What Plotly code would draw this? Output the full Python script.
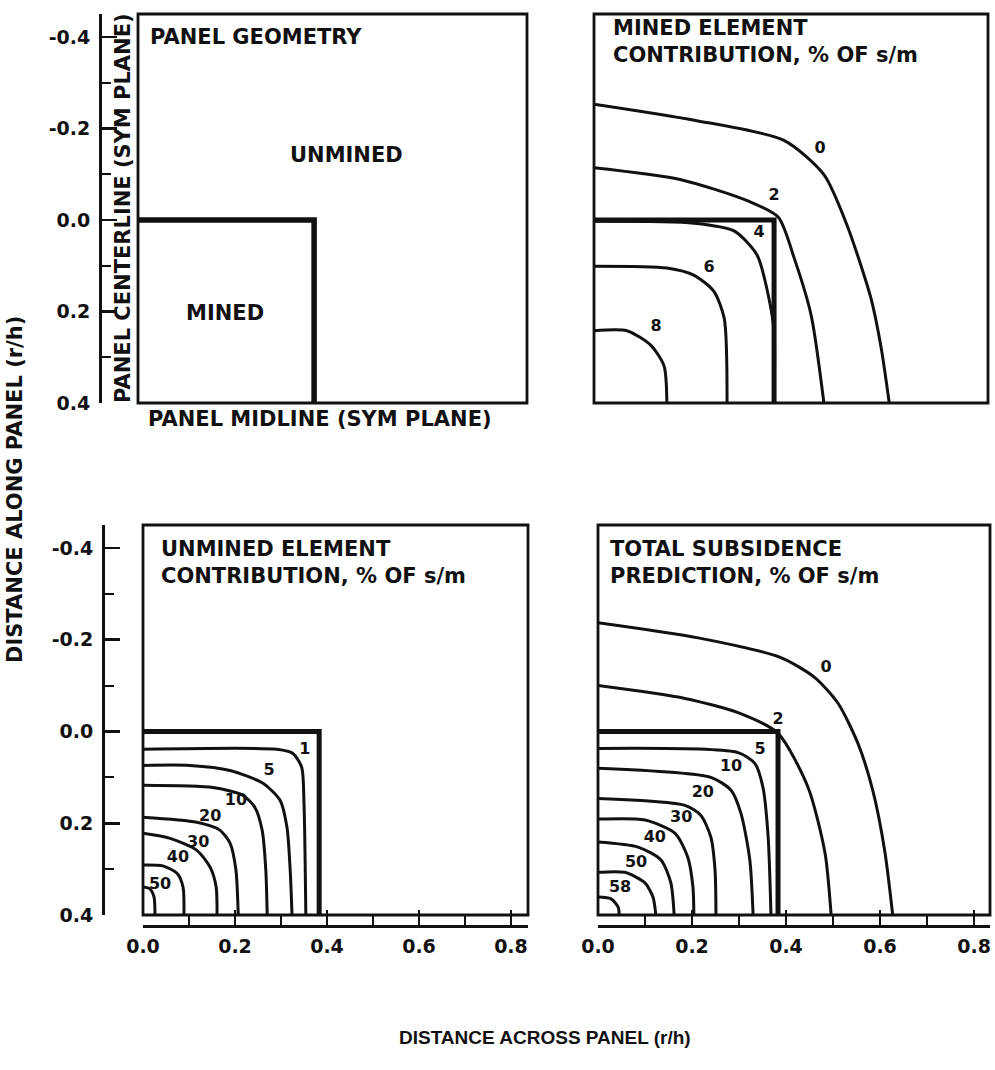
import plotly.graph_objects as go

W, H = 995, 1070

# ---------------- data ----------------
y_tick_vals = [-0.4, -0.2, 0.0, 0.2, 0.4]
y_tick_text = ["-0.4", "-0.2", "0.0", "0.2", "0.4"]
y_minor_vals = [-0.3, -0.1, 0.1, 0.3]
x_tick_vals = [0.0, 0.2, 0.4, 0.6, 0.8]
x_tick_text = ["0.0", "0.2", "0.4", "0.6", "0.8"]
x_minor_vals = [0.1, 0.3, 0.5, 0.7]

# mined panel outline (quarter panel, symmetric planes at x=0 and y=0.4)
panel_edge_x = [0.0, 0.383, 0.383]
panel_edge_y = [0.0, 0.0, 0.4]

# --- Mined element contribution, % of s/m ---
mined_labels = ["0", "2", "4", "6", "8"]
mined_0_x = [0.0, 0.213, 0.404, 0.489, 0.538, 0.589, 0.611, 0.628]
mined_0_y = [-0.253, -0.218, -0.174, -0.099, 0.011, 0.171, 0.281, 0.4]
mined_2_x = [0.0, 0.185, 0.326, 0.392, 0.426, 0.462, 0.489]
mined_2_y = [-0.114, -0.088, -0.042, -0.006, 0.084, 0.209, 0.4]
mined_4_x = [0.0, 0.213, 0.298, 0.347, 0.372, 0.383, 0.383]
mined_4_y = [0.003, 0.007, 0.024, 0.077, 0.171, 0.245, 0.4]
mined_6_x = [0.0, 0.155, 0.213, 0.255, 0.277, 0.283]
mined_6_y = [0.101, 0.105, 0.121, 0.156, 0.215, 0.4]
mined_8_x = [0.0, 0.07, 0.121, 0.149, 0.155]
mined_8_y = [0.242, 0.242, 0.274, 0.319, 0.4]
mined_label_x = [0.481, 0.383, 0.351, 0.245, 0.132]
mined_label_y = [-0.156, -0.053, 0.029, 0.104, 0.233]

# --- Unmined element contribution, % of s/m ---
unmined_labels = ["1", "5", "10", "20", "30", "40", "50"]
unmined_1_x = [0.0, 0.291, 0.326, 0.345, 0.35, 0.354]
unmined_1_y = [0.039, 0.039, 0.048, 0.078, 0.157, 0.4]
unmined_5_x = [0.0, 0.102, 0.189, 0.261, 0.298, 0.313, 0.32, 0.324]
unmined_5_y = [0.074, 0.074, 0.085, 0.113, 0.15, 0.209, 0.302, 0.4]
unmined_10_x = [0.0, 0.152, 0.217, 0.243, 0.259, 0.267, 0.27]
unmined_10_y = [0.117, 0.122, 0.139, 0.165, 0.215, 0.302, 0.4]
unmined_20_x = [0.0, 0.117, 0.167, 0.189, 0.202, 0.207]
unmined_20_y = [0.187, 0.198, 0.215, 0.243, 0.302, 0.4]
unmined_30_x = [0.0, 0.059, 0.117, 0.146, 0.159, 0.161]
unmined_30_y = [0.222, 0.233, 0.259, 0.296, 0.339, 0.4]
unmined_40_x = [0.0, 0.043, 0.074, 0.087, 0.089]
unmined_40_y = [0.291, 0.293, 0.309, 0.339, 0.4]
unmined_50_x = [0.0, 0.015, 0.024, 0.026]
unmined_50_y = [0.339, 0.343, 0.361, 0.4]
unmined_label_x = [0.352, 0.274, 0.202, 0.146, 0.12, 0.076, 0.037]
unmined_label_y = [0.041, 0.087, 0.152, 0.187, 0.243, 0.276, 0.335]

# --- Total subsidence prediction, % of s/m ---
total_labels = ["0", "2", "5", "10", "20", "30", "40", "50", "58"]
total_0_x = [0.0, 0.213, 0.389, 0.462, 0.511, 0.553, 0.585, 0.61, 0.627]
total_0_y = [-0.237, -0.204, -0.161, -0.117, -0.061, 0.026, 0.13, 0.26, 0.4]
total_2_x = [0.0, 0.185, 0.298, 0.383, 0.447, 0.483, 0.496]
total_2_y = [-0.1, -0.072, -0.041, 0.004, 0.122, 0.265, 0.4]
total_5_x = [0.0, 0.298, 0.334, 0.351, 0.362, 0.368]
total_5_y = [0.037, 0.046, 0.07, 0.122, 0.23, 0.4]
total_10_x = [0.0, 0.24, 0.283, 0.304, 0.323, 0.33]
total_10_y = [0.08, 0.1, 0.128, 0.178, 0.28, 0.4]
total_20_x = [0.0, 0.185, 0.219, 0.24, 0.249, 0.251]
total_20_y = [0.146, 0.161, 0.183, 0.23, 0.302, 0.4]
total_30_x = [0.0, 0.1, 0.164, 0.191, 0.202, 0.204]
total_30_y = [0.191, 0.193, 0.222, 0.274, 0.339, 0.4]
total_40_x = [0.0, 0.085, 0.134, 0.155, 0.162]
total_40_y = [0.241, 0.252, 0.28, 0.33, 0.4]
total_50_x = [0.0, 0.057, 0.1, 0.117, 0.123]
total_50_y = [0.307, 0.307, 0.33, 0.361, 0.4]
total_58_x = [0.0, 0.028, 0.043, 0.045]
total_58_y = [0.361, 0.365, 0.383, 0.4]
total_label_x = [0.485, 0.383, 0.345, 0.283, 0.223, 0.177, 0.121, 0.081, 0.047]
total_label_y = [-0.139, -0.026, 0.041, 0.078, 0.135, 0.189, 0.233, 0.287, 0.341]

# ---------------- figure ----------------
FONT = "DejaVu Sans"
BLACK = "#111111"
fig = go.Figure()


def px_x(p):
    return p / W


def px_y(p):
    return 1 - p / H


def add_line(xs, ys, xa, ya, width=3.0, shape="spline"):
    fig.add_trace(go.Scatter(
        x=xs, y=ys, xaxis=xa, yaxis=ya, mode="lines",
        line=dict(color=BLACK, width=width, shape=shape, smoothing=0.7),
        showlegend=False, hoverinfo="skip"))


def add_labels(xs, ys, texts, xa, ya, size=16):
    fig.add_trace(go.Scatter(
        x=xs, y=ys, xaxis=xa, yaxis=ya, mode="text", text=texts,
        textfont=dict(family=FONT, size=size, color=BLACK, weight="bold"),
        textposition="middle center", showlegend=False, hoverinfo="skip"))


# panel 1: geometry
add_line(panel_edge_x, panel_edge_y, "x", "y", width=5.5, shape="linear")

# panel 2: mined element contribution
for cx, cy in [(mined_0_x, mined_0_y), (mined_2_x, mined_2_y), (mined_4_x, mined_4_y),
               (mined_6_x, mined_6_y), (mined_8_x, mined_8_y)]:
    add_line(cx, cy, "x2", "y2")
add_line(panel_edge_x, panel_edge_y, "x2", "y2", width=5, shape="linear")
add_labels(mined_label_x, mined_label_y, mined_labels, "x2", "y2")

# panel 3: unmined element contribution
for cx, cy in [(unmined_1_x, unmined_1_y), (unmined_5_x, unmined_5_y),
               (unmined_10_x, unmined_10_y), (unmined_20_x, unmined_20_y),
               (unmined_30_x, unmined_30_y), (unmined_40_x, unmined_40_y),
               (unmined_50_x, unmined_50_y)]:
    add_line(cx, cy, "x3", "y3")
add_line(panel_edge_x, panel_edge_y, "x3", "y3", width=5, shape="linear")
add_labels(unmined_label_x, unmined_label_y, unmined_labels, "x3", "y3")

# panel 4: total subsidence prediction
for cx, cy in [(total_0_x, total_0_y), (total_2_x, total_2_y), (total_5_x, total_5_y),
               (total_10_x, total_10_y), (total_20_x, total_20_y), (total_30_x, total_30_y),
               (total_40_x, total_40_y), (total_50_x, total_50_y), (total_58_x, total_58_y)]:
    add_line(cx, cy, "x4", "y4")
add_line(panel_edge_x, panel_edge_y, "x4", "y4", width=5, shape="linear")
add_labels(total_label_x, total_label_y, total_labels, "x4", "y4")

tickfont = dict(family=FONT, size=19, color=BLACK, weight="bold")
YR = [0.4, -0.45]

hidden = dict(visible=False, showgrid=False, zeroline=False)


def free_y(pos_px, dom):
    return dict(domain=dom, range=YR, anchor="free", position=px_x(pos_px), side="left",
                showline=True, linecolor=BLACK, linewidth=2.6, showgrid=False, zeroline=False,
                ticks="inside", ticklen=15, tickwidth=2.6, tickcolor=BLACK,
                tickvals=y_tick_vals, ticktext=y_tick_text, tickfont=tickfont,
                ticklabelstandoff=5, automargin=False,
                minor=dict(tickvals=y_minor_vals, ticks="inside", ticklen=9,
                           tickwidth=2, tickcolor=BLACK, showgrid=False))


def free_x(dom, rng, pos_px):
    return dict(domain=dom, range=rng, anchor="free", position=px_y(pos_px), side="bottom",
                showline=True, linecolor=BLACK, linewidth=2.6, showgrid=False, zeroline=False,
                ticks="inside", ticklen=15, tickwidth=2.6, tickcolor=BLACK,
                tickvals=x_tick_vals, ticktext=x_tick_text, tickfont=tickfont,
                ticklabelstandoff=3, automargin=False,
                minor=dict(tickvals=x_minor_vals, ticks="inside", ticklen=9,
                           tickwidth=2, tickcolor=BLACK, showgrid=False))


top_dom = [px_y(403), px_y(14)]
bot_dom = [px_y(915), px_y(525)]

fig.update_layout(
    width=W, height=H,
    margin=dict(l=0, r=0, t=0, b=0, pad=0, autoexpand=False),
    paper_bgcolor="white", plot_bgcolor="rgba(0,0,0,0)",
    xaxis=dict(domain=[px_x(138), px_x(527)], range=[0, 0.846], anchor="y", **hidden),
    yaxis=free_y(100, top_dom),
    xaxis2=dict(domain=[px_x(594), px_x(988)], range=[0, 0.838], anchor="y2", **hidden),
    yaxis2=dict(domain=top_dom, range=YR, anchor="x2", **hidden),
    xaxis3=free_x([px_x(143), px_x(528)], [0, 0.837], 926),
    yaxis3=free_y(103, bot_dom),
    xaxis4=free_x([px_x(598), px_x(990)], [0, 0.834], 926),
    yaxis4=dict(domain=bot_dom, range=YR, anchor="x4", **hidden),
)

# panel boxes
shapes = []
for xa, ya in [("x", "y"), ("x2", "y2"), ("x3", "y3"), ("x4", "y4")]:
    shapes.append(dict(type="rect", xref=f"{xa} domain", yref=f"{ya} domain",
                       x0=0, x1=1, y0=0, y1=1, line=dict(color=BLACK, width=2.8)))
fig.update_layout(shapes=shapes)

lab = dict(family=FONT, size=21, color=BLACK, weight="bold")


def ann(text, x, y, xanchor="left", yanchor="middle", angle=0, font=lab, align="left"):
    fig.add_annotation(text=text, x=px_x(x), y=px_y(y), xref="paper", yref="paper",
                       xanchor=xanchor, yanchor=yanchor, textangle=angle,
                       showarrow=False, font=font, align=align)


ann("PANEL GEOMETRY", 148, 37)
ann("UNMINED", 346, 155, xanchor="center")
ann("MINED", 225, 313, xanchor="center")
ann("PANEL MIDLINE (SYM PLANE)", 146, 419)
ann("PANEL CENTERLINE (SYM PLANE)", 123, 208, xanchor="center", angle=-90)
ann("MINED ELEMENT<br>CONTRIBUTION, % OF s/m", 611, 14, yanchor="top")
ann("UNMINED ELEMENT<br>CONTRIBUTION, % OF s/m", 159, 535, yanchor="top")
ann("TOTAL SUBSIDENCE<br>PREDICTION, % OF s/m", 608, 535, yanchor="top")
ann("DISTANCE ALONG PANEL (r/h)", 15, 490, xanchor="center", angle=-90,
    font=dict(family=FONT, size=21, color=BLACK, weight="bold"))
ann("DISTANCE ACROSS PANEL (r/h)", 545, 1037, xanchor="center",
    font=dict(family="Liberation Sans", size=19, color=BLACK, weight="bold"))

fig.write_html(
    "out.html",
    config={"displayModeBar": False, "staticPlot": True},
    post_script="document.body.style.margin='0px';document.body.style.padding='0px';"
                "document.documentElement.style.overflow='hidden';",
)
